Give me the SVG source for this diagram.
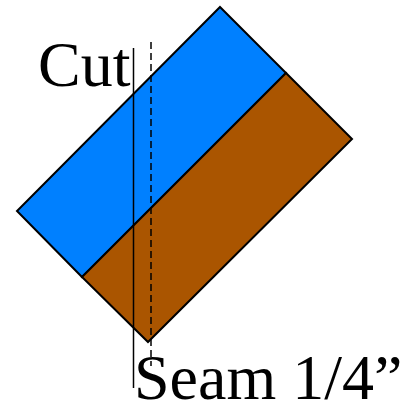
<svg xmlns="http://www.w3.org/2000/svg" width="407" height="411" viewBox="0 0 407 411">
<style>
.s{stroke:#000;stroke-width:2;stroke-linejoin:miter}
.t{font-family:"Liberation Serif",serif;font-size:64px;fill:#000}
</style>
<rect width="407" height="411" fill="#fff"/>
<g id="blue"><polygon class="s" points="220,7 286,73 82,277 17,211" fill="#0080ff"/></g>
<g id="brown"><polygon class="s" points="286,73 352,139 148,342 82,277" fill="#aa5500"/></g>
<g id="connectors">
<line x1="133.5" y1="48" x2="133.5" y2="388" stroke="#000" stroke-width="1.5"/>
<line x1="151" y1="42" x2="151" y2="366" stroke="#000" stroke-width="1.5" stroke-dasharray="7,4"/>
</g>
<g id="cut"><text class="t" x="38" y="86">Cut</text></g>
<g id="seam"><text class="t" x="134" y="399">Seam 1/4”</text></g>
</svg>
